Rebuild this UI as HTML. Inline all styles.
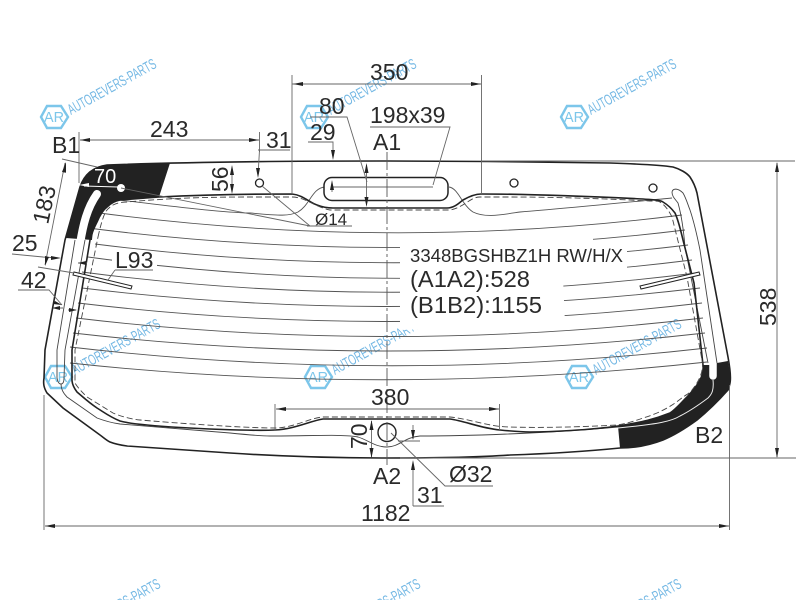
<!DOCTYPE html>
<html><head><meta charset="utf-8"><style>
html,body{margin:0;padding:0;background:#fff;width:800px;height:600px;overflow:hidden}
svg{display:block;overflow:hidden}
text{font-family:"Liberation Sans",sans-serif;fill:#2a2a2a}
.t{font-size:23px}
.g{stroke:#666;stroke-width:.9;fill:none}
.h{stroke:#222;stroke-width:1.6;fill:none}
.a{fill:#222;stroke:none}
.w text{font-size:15px;fill:#74b8e4}
.w text.r{font-size:15px;fill:#7cc6ea}
.w path{fill:none;stroke:#7cc6ea;stroke-width:2.4}
</style></head><body>
<svg width="800" height="600" viewBox="0 0 800 600" xmlns="http://www.w3.org/2000/svg">
<rect width="800" height="600" fill="#fff"/>

<!-- watermarks -->
<g class="w">
<g><path d="M41 117L47 106H61L68 117L61 128H47Z"/><text class="r" x="44" y="122" textLength="20" lengthAdjust="spacingAndGlyphs">AR</text><text x="71" y="115" transform="rotate(-29 71 115)" textLength="99" lengthAdjust="spacingAndGlyphs">AUTOREVERS-PARTS</text></g>
<g transform="translate(260 0)"><path d="M41 117L47 106H61L68 117L61 128H47Z"/><text class="r" x="44" y="122" textLength="20" lengthAdjust="spacingAndGlyphs">AR</text><text x="71" y="115" transform="rotate(-29 71 115)" textLength="99" lengthAdjust="spacingAndGlyphs">AUTOREVERS-PARTS</text></g>
<g transform="translate(520 0)"><path d="M41 117L47 106H61L68 117L61 128H47Z"/><text class="r" x="44" y="122" textLength="20" lengthAdjust="spacingAndGlyphs">AR</text><text x="71" y="115" transform="rotate(-29 71 115)" textLength="99" lengthAdjust="spacingAndGlyphs">AUTOREVERS-PARTS</text></g>
<g transform="translate(4 260)"><path d="M41 117L47 106H61L68 117L61 128H47Z"/><text class="r" x="44" y="122" textLength="20" lengthAdjust="spacingAndGlyphs">AR</text><text x="71" y="115" transform="rotate(-29 71 115)" textLength="99" lengthAdjust="spacingAndGlyphs">AUTOREVERS-PARTS</text></g>
<g transform="translate(264 260)"><path d="M41 117L47 106H61L68 117L61 128H47Z"/><text class="r" x="44" y="122" textLength="20" lengthAdjust="spacingAndGlyphs">AR</text><text x="71" y="115" transform="rotate(-29 71 115)" textLength="99" lengthAdjust="spacingAndGlyphs">AUTOREVERS-PARTS</text></g>
<g transform="translate(525 260)"><path d="M41 117L47 106H61L68 117L61 128H47Z"/><text class="r" x="44" y="122" textLength="20" lengthAdjust="spacingAndGlyphs">AR</text><text x="71" y="115" transform="rotate(-29 71 115)" textLength="99" lengthAdjust="spacingAndGlyphs">AUTOREVERS-PARTS</text></g>
<g transform="translate(4 520)"><text x="71" y="115" transform="rotate(-29 71 115)" textLength="99" lengthAdjust="spacingAndGlyphs">AUTOREVERS-PARTS</text></g>
<g transform="translate(264 520)"><text x="71" y="115" transform="rotate(-29 71 115)" textLength="99" lengthAdjust="spacingAndGlyphs">AUTOREVERS-PARTS</text></g>
<g transform="translate(525 520)"><text x="71" y="115" transform="rotate(-29 71 115)" textLength="99" lengthAdjust="spacingAndGlyphs">AUTOREVERS-PARTS</text></g>
</g>

<!-- heater lines -->
<g fill="none" stroke="#555" stroke-width=".9">
<path d="M70 363Q387 397 707 362"/>
<path d="M70 347Q387 384 707 348"/>
<path d="M73 333Q387 369 705 333"/>
<path d="M76 318Q387 355 703 318"/>
<path d="M78 303Q387 340 702 303"/>
<path d="M82 288Q387 325 700 288"/>
<path d="M82 272Q387 312 696 273"/>
<path d="M88 257Q387 298 692 260"/>
<path d="M95 244Q387 281 688 245"/>
<path d="M88 228Q387 266 685 230"/>
<path d="M92 212Q387 252 682 215"/>
<path d="M100 198C150 203 210 212 250 213C275 215 288 217 298 212C310 205 312 188 325 187M449 187C458 188 462 205 473 212C485 218 500 215 520 212C570 208 630 202 672 198"/>
</g>
<polygon points="400,240 593,231 593,245 627,241 627,272 563,278 565,324 400,330" fill="#fff"/>
<polygon points="112,255 157,259 157,272 112,268" fill="#fff"/>

<!-- black regions -->
<path d="M170 163L107 165C92 167 84 175 80 187L66 238L92 240C93 230 94 228 97 222C100 215 103 210 107 207C111 203 115 201 120 200L159 197Z" fill="#222"/>
<path d="M80 244C83 225 87 208 97 194" fill="none" stroke="#fff" stroke-width="8" stroke-linecap="round"/>
<path d="M703 365C704 375 700 383 687 397C680 404 675 410 670 413C655 419 643 422 618 426L620 448C630 448 637 447 643 446C650 445 656 443 663 440C675 435 686 428 697 420C708 411 720 399 728 390C731 385 731 378 730 373L728 361L717 363L709 365Z" fill="#222"/>
<path d="M713 355L713 376" fill="none" stroke="#fff" stroke-width="7.5" stroke-linecap="round"/>
<path d="M713 380C714 390 712 394 708 398C700 404 690 411 680 416C672 421 660 424 618 428" fill="none" stroke="#eee" stroke-width="1"/>

<!-- thin stripe lines -->
<g fill="none" stroke="#444" stroke-width=".9">
<path d="M75 240L57 350L57 378Q58 384 61 384Q64 384 64 378L65 350L85 240"/>
<path d="M61 384C61 390 64 394 67 397L97 418C105 421 112 423 120 424L230 433C250 435 260 436 270 436C310 436 345 434 358 437C368 440 375 447 387 447C399 447 405 437 420 436C460 436 540 434 618 427"/>
<path d="M672 192C672 197 676 200 678 203C682 217 684 235 685 247L708 363"/>
<path d="M672 192C673 188 678 188 683 193C686 198 688 205 690 210C694 222 697 235 700 250L717 363"/>
</g>

<!-- outer glass -->
<path class="h" d="M80 187C84 175 92 167 107 165C160 163 250 161 387 161C450 161 560 162 610 163C640 164 660 165 673 167C680 169 687 173 690 177C694 183 696 189 697 193L728 357C730 368 731 378 730 383C729 387 729 389 728 390C720 399 708 411 697 420C686 428 675 435 663 440C650 445 635 448 620 448C580 452 540 454 510 455C470 458 420 458 387 458C340 458 290 457 230 453L127 446C120 445 115 444 110 442C106 440 103 437 100 435L63 408L47 393C44 388 43 384 44 378L45 350L65 240Z"/>
<!-- inner opening -->
<path class="h" d="M159 197C200 195 250 194 292 194C303 195 310 203 317 205C322 207 328 208 333 208H447C455 208 460 202 463 200C470 196 476 194 481 194C540 194 600 197 643 199C655 200 660 200 663 202C668 205 672 209 675 213C679 222 681 232 683 240L694 283L703 365C704 375 700 383 687 397C680 404 675 410 670 413C655 419 643 422 618 426C590 430 550 432 530 432C520 432 510 431 500 430C480 428 465 421 450 419H323C310 421 295 429 275 430C255 431 190 429 147 425C135 424 127 423 120 421C110 417 105 413 97 408C88 402 83 397 77 392C74 388 72 384 72 380L72 350L90 240C93 230 94 228 97 222C100 215 103 210 107 207C111 203 115 201 120 200Z"/>
<!-- dashed -->
<path d="M98 237C100 228 102 220 105 213C107 209 110 207 113 205C117 203 122 202 127 202C170 198 210 197 250 197H292C305 197 315 207 330 210H450C465 207 470 197 480 197H510C560 197 610 199 650 201C655 201 658 201 660 202C665 205 669 211 672 217L687 277L702 360C704 370 700 380 692 390C690 393 686 395 683 397C672 406 660 413 643 418C635 421 625 424 617 425C580 427 540 428 510 427C490 427 470 419 450 417H323C310 418 295 427 277 428C250 428 200 425 140 420C130 419 120 416 113 413C105 408 95 402 87 397C82 392 78 388 75 383L75 350Z" fill="none" stroke="#444" stroke-width=".9" stroke-dasharray="6 3"/>

<!-- brake light -->
<rect x="324" y="177.5" width="124" height="23" rx="8" fill="#fff" stroke="#222" stroke-width="1.5"/>
<!-- holes -->
<circle cx="259.5" cy="183" r="4" fill="#fff" stroke="#222" stroke-width="1.3"/>
<circle cx="514" cy="183" r="4" fill="#fff" stroke="#222" stroke-width="1.3"/>
<circle cx="653" cy="188" r="4" fill="#fff" stroke="#222" stroke-width="1.3"/>
<circle cx="121" cy="188" r="4" fill="#fff"/>
<circle cx="387" cy="432.5" r="9" fill="#fff" stroke="#222" stroke-width="1.4"/>

<!-- wipers -->
<path d="M74 272L132 286L131 289L73 275Z" fill="#fff" stroke="#222" stroke-width="1"/>
<path d="M699 272L640 286L641 289L700 275Z" fill="#fff" stroke="#222" stroke-width="1"/>

<!-- dimension lines -->
<g class="g">
<path d="M79 132V183M259.5 132V152"/>
<path d="M80 140H259"/>
<path d="M292 75V194M481.5 75V194M292 84H481"/>
<path d="M481 161H795M400 458H796"/>
<path d="M777 163V457"/>
<path d="M44 395V530M729.5 385V530M45 526H729"/>
<path d="M258 150H290M259.5 150L258 176"/>
<path d="M308 142H333V156"/>
<path d="M310 117H347L367 182M366.5 165V205"/>
<path d="M370 127H450L433 185M332 187H433M332 183V192"/>
<path d="M262 186L310 226M121 188L310 226M307 226H352"/>
<path d="M62 159L97 167M65 163L45 265"/>
<path d="M12 254L43 257L58 258M38 267L74 273M78 263H87"/>
<path d="M18 290H49L62 305M53 308H63M68 310H76"/>
<path d="M115 270H153M115 270L108 280"/>
<path d="M232 168V192"/>
<path d="M275 404V431M499.5 404V430M276 409H499"/>
<path d="M371.5 421V457"/>
<path d="M413 506V462M413 506H444"/>
<path d="M413 425V439M398 441H420"/>
<path d="M391 433L445 486H493"/>
</g>
<path d="M387 152V465" fill="none" stroke="#555" stroke-width=".9" stroke-dasharray="18 3 3 3"/>
<path d="M84 186L118 187" fill="none" stroke="#fff" stroke-width="1"/>

<!-- arrows -->
<g class="a">
<path d="M80 140L90 138V142Z"/><path d="M259 140L249 138V142Z"/>
<path d="M293 84L303 82V86Z"/><path d="M481 84L471 82V86Z"/>
<path d="M777 162L775 172H779Z"/><path d="M777 458L775 448H779Z"/>
<path d="M45 526L55 524V528Z"/><path d="M729 526L719 524V528Z"/>
<path d="M258 178L256 168H260Z"/>
<path d="M333 160L331 150H335Z"/>
<path d="M366.5 163L364.5 173H368.5Z"/><path d="M366.5 207L364.5 197H368.5Z"/>
<path d="M332 180L330 190H334Z"/>
<path d="M232 165L230 175H234Z"/><path d="M232 194L230 184H234Z"/>
<path d="M66 162L62 172L66 172.8Z"/><path d="M45 266L45 256L49 257Z"/>
<path d="M61 258L51 256V260Z"/><path d="M78 263L86 261V265Z"/>
<path d="M52 308L60 306V310Z"/><path d="M62 305L55 301L53 304Z"/>
<path d="M77 310L69 308V312Z"/>
<path d="M276 409L286 407V411Z"/><path d="M499 409L489 407V411Z"/>
<path d="M371.5 420L369.5 430H373.5Z"/><path d="M371.5 458L369.5 448H373.5Z"/>
<path d="M413 460L411 470H415Z"/><path d="M413 440L411 430H415Z"/>
</g>
<path d="M79 185L89 183V187Z" fill="#fff"/>

<!-- text -->
<text class="t" x="150" y="137">243</text>
<text class="t" x="52" y="153">B1</text>
<text x="94" y="183" font-size="20" style="fill:#fff">70</text>
<text class="t" transform="translate(228 192) rotate(-90)">56</text>
<text class="t" transform="translate(48 225) rotate(-78)">183</text>
<text class="t" x="12" y="251">25</text>
<text class="t" x="21" y="288">42</text>
<text class="t" x="115" y="268">L93</text>
<text class="t" x="266" y="148">31</text>
<text class="t" x="370" y="80">350</text>
<text class="t" x="319" y="114">80</text>
<text class="t" x="310" y="140">29</text>
<text class="t" x="370" y="123">198x39</text>
<text class="t" x="373" y="150">A1</text>
<text x="315" y="225" font-size="17">Ø14</text>
<text x="410" y="262" font-size="18" textLength="213" lengthAdjust="spacingAndGlyphs">3348BGSHBZ1H RW/H/X</text>
<text x="410" y="287" font-size="23.5" textLength="120" lengthAdjust="spacingAndGlyphs">(A1A2):528</text>
<text x="410" y="313" font-size="23.5" textLength="132" lengthAdjust="spacingAndGlyphs">(B1B2):1155</text>
<text class="t" x="371" y="405">380</text>
<text class="t" transform="translate(367 449) rotate(-90)">70</text>
<text class="t" x="373" y="484">A2</text>
<text class="t" x="417" y="503">31</text>
<text class="t" x="449" y="482">Ø32</text>
<text class="t" x="361" y="521">1182</text>
<text class="t" x="695" y="443">B2</text>
<text class="t" transform="translate(776 326) rotate(-90)">538</text>
</svg>
</body></html>
